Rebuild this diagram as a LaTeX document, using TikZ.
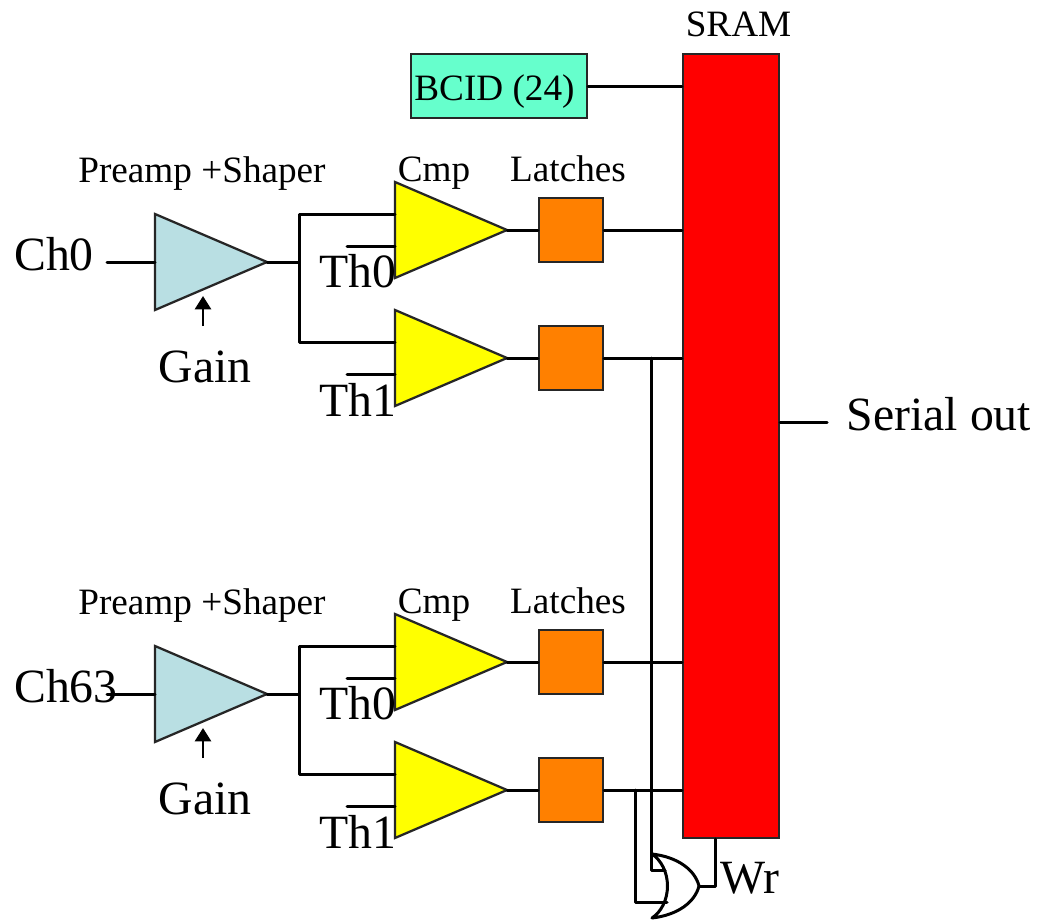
\documentclass[tikz,border=0pt]{standalone}
\usepackage{fontspec}
\setmainfont{Liberation Serif}
\usetikzlibrary{arrows.meta}
\definecolor{ampc}{HTML}{B9DFE3}
\definecolor{latchc}{HTML}{FF8000}
\definecolor{bcidc}{HTML}{66FFCC}
\definecolor{cmpc}{HTML}{FFFF00}
\definecolor{sramc}{HTML}{FF0000}
\definecolor{edgec}{HTML}{262626}
\tikzset{
  wire/.style={draw=black,line width=2.25pt,line cap=round,line join=round},
  outline/.style={draw=edgec,line width=1.7pt,line join=miter},
  smalltxt/.style={inner sep=0pt,anchor=base,font=\fontsize{27.9pt}{30pt}\selectfont},
  bigtxt/.style={inner sep=0pt,anchor=base west,font=\fontsize{35.8pt}{38pt}\selectfont},
  latchbox/.style={outline,fill=latchc,minimum width=48pt,minimum height=48pt,inner sep=0pt},
  gainarrow/.style={-{Triangle[length=10pt,width=12pt]},draw=black,line width=2pt},
}
% name, left x, centre y, colour
\newcommand{\trishape}[4]{%
  \coordinate (#1-top) at (#2,#3-48);
  \coordinate (#1-bot) at (#2,#3+48);
  \coordinate (#1-in) at (#2,#3);
  \coordinate (#1-tip) at (#2+112,#3);
  \path[outline,fill=#4] (#1-top) -- (#1-tip) -- (#1-bot) -- cycle;
}
% one channel: suffix, y offset, channel label
\newcommand{\channel}[3]{%
  \trishape{amp#1}{155}{262+#2}{ampc}
  \trishape{cmpa#1}{395}{230+#2}{cmpc}
  \trishape{cmpb#1}{395}{358+#2}{cmpc}
  \node[latchbox] (la#1) at (571,230+#2) {};
  \node[latchbox] (lb#1) at (571,358+#2) {};
  \coordinate (chin#1) at (107,262+#2);
  \coordinate (split#1) at (299,262+#2);
  \coordinate (tha#1) at (347,246+#2);
  \coordinate (thb#1) at (347,374+#2);
  \coordinate (gain#1) at (203,326+#2);
  \draw[wire] (chin#1) -- (amp#1-in);
  \draw[wire] (amp#1-tip) -- (split#1);
  \draw[wire] (cmpa#1-in |- 0,214+#2) -| (split#1) |- (cmpb#1-in |- 0,342+#2);
  \draw[wire] (tha#1) -- (cmpa#1-in |- tha#1);
  \draw[wire] (thb#1) -- (cmpb#1-in |- thb#1);
  \draw[wire] (cmpa#1-tip) -- (la#1);
  \draw[wire] (cmpb#1-tip) -- (lb#1);
  \draw[wire] (la#1.east) -- (la#1.east -| sram.west);
  \draw[wire] (lb#1.east) -- (lb#1.east -| sram.west);
  \draw[gainarrow] (gain#1) -- (203,296+#2);
  \node[smalltxt] (pre#1) at (202,182+#2) {Preamp +Shaper};
  \node[smalltxt] (cmplab#1) at (434,181+#2) {Cmp};
  \node[smalltxt] (latlab#1) at (568,181+#2) {Latches};
  \node[bigtxt,anchor=base] (gainlab#1) at (205,382+#2) {Gain};
  \node[bigtxt] (thalab#1) at (319,287+#2) {Th0};
  \node[bigtxt] (thblab#1) at (319,416+#2) {Th1};
  \node[bigtxt] (chlab#1) at (14,270+#2) {#3};
}
\begin{document}
\begin{tikzpicture}[x=0.75pt,y=-0.75pt]
\useasboundingbox (0,0) rectangle (1039,922);
\node[outline,fill=sramc,minimum width=72pt,minimum height=588pt,inner sep=0pt] (sram) at (731,446) {};
\node[outline,fill=bcidc,minimum width=132pt,minimum height=48pt,inner sep=0pt] (bcid) at (499,86) {};
\node[smalltxt] (bcidlab) at (494.5,100) {BCID (24)};
\node[smalltxt] (sramlab) at (738.5,36) {SRAM};
\draw[wire] (bcid.east) -- (bcid.east -| sram.west);
\channel{x}{0}{Ch0}
\channel{y}{432}{Ch63}
% Serial out
\coordinate (serial) at (827,422);
\draw[wire] (serial -| sram.east) -- (serial);
\node[bigtxt] (seriallab) at (846.5,430) {Serial out};
% OR gate
\coordinate (ortop) at (652,854);
\coordinate (orbot) at (652,918);
\coordinate (ortip) at (699,886);
\coordinate (orbk) at (667.5,886);
\coordinate (orina) at (665,870);
\coordinate (orinb) at (667,902);
\coordinate (wrx) at (715,886);
\coordinate (busa) at (651.5,358);
\coordinate (busb) at (635,790);
\draw[wire] (busa) -- (busa |- orina) -- (orina);
\draw[wire] (busb) -- (busb |- orinb) -- (orinb);
\draw[wire] (ortop) .. controls (661,860) and (667.5,872) .. (orbk)
  .. controls (667.5,900) and (661,912) .. (orbot)
  .. controls (678,915) and (695,902) .. (ortip)
  .. controls (695,870) and (678,857) .. (ortop) -- cycle;
\draw[wire] (ortip) -- (wrx) -- (wrx |- sram.south);
\node[bigtxt] (wrlab) at (720,893) {Wr};
\end{tikzpicture}
\end{document}
